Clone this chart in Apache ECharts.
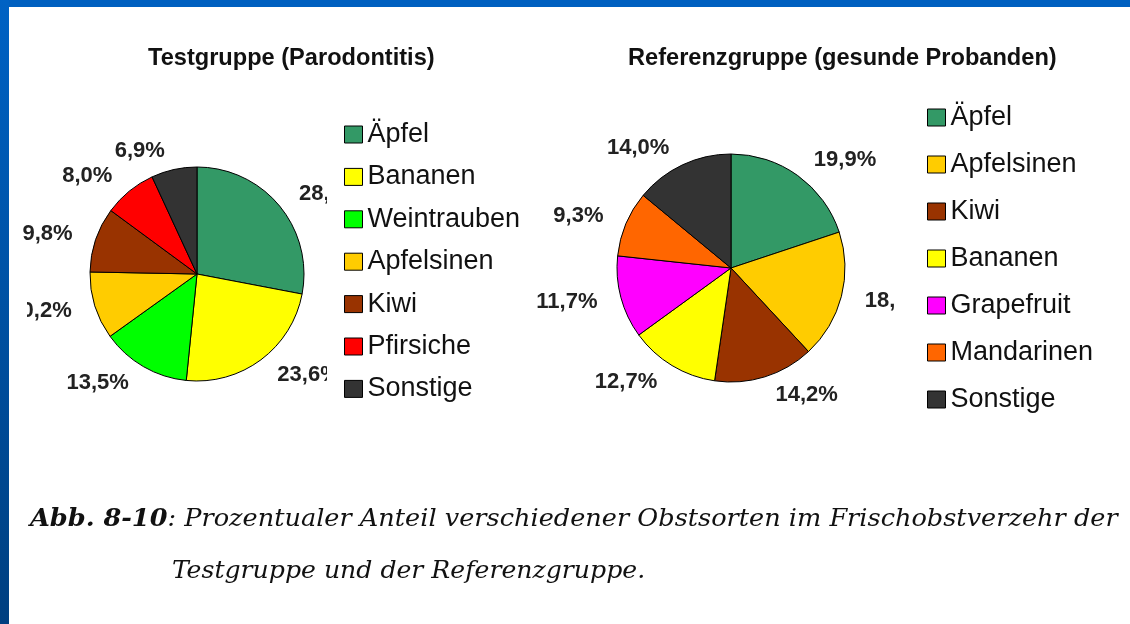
<!DOCTYPE html>
<html>
<head>
<meta charset="utf-8">
<script src="https://cdn.jsdelivr.net/npm/echarts@6/dist/echarts.min.js"></script>
<style>
  html, body { margin: 0; padding: 0; background: #fff; }
  #chart { width: 1130px; height: 624px; }
</style>
</head>
<body>
<div id="chart"></div>
<script>
// Testgruppe (Parodontitis)
var testNames = ['Äpfel', 'Bananen', 'Weintrauben', 'Apfelsinen', 'Kiwi', 'Pfirsiche', 'Sonstige'];
var testValues = [28.0, 23.6, 13.5, 10.2, 9.8, 8.0, 6.9];
// Referenzgruppe (gesunde Probanden)
var refNames = ['Äpfel', 'Apfelsinen', 'Kiwi', 'Bananen', 'Grapefruit', 'Mandarinen', 'Sonstige'];
var refValues = [19.9, 18.2, 14.2, 12.7, 11.7, 9.3, 14.0];

var fruitColors = {
  'Äpfel': '#339966',
  'Bananen': '#ffff00',
  'Weintrauben': '#00ff00',
  'Apfelsinen': '#ffcc00',
  'Kiwi': '#993300',
  'Pfirsiche': '#ff0000',
  'Sonstige': '#333333',
  'Grapefruit': '#ff00ff',
  'Mandarinen': '#ff6600'
};

var sans = 'Liberation Sans, Arial, sans-serif';
var serif = '"DejaVu Serif Condensed", "DejaVu Serif", serif';

function pieData(names, values) {
  return names.map(function (n, i) {
    return { name: n, value: values[i], itemStyle: { color: fruitColors[n] } };
  });
}

function pctLabel(p) {
  return p.value.toFixed(1).replace('.', ',') + '%';
}

function makePie(names, values, center, radius, lineLen) {
  return {
    type: 'pie',
    center: center,
    radius: radius,
    startAngle: 90,
    clockwise: true,
    avoidLabelOverlap: false,
    silent: true,
    itemStyle: { borderColor: '#000', borderWidth: 1 },
    label: {
      show: true,
      position: 'outside',
      formatter: pctLabel,
      fontFamily: sans,
      fontWeight: 'bold',
      fontSize: 22,
      color: '#222'
    },
    labelLine: { show: false, length: lineLen, length2: 0 },
    data: pieData(names, values)
  };
}

// white strips that cut off the outer labels, as the chart area does in the original
// (z 3: above the pie labels, below the legends)
function clipStrip(x, y, w, h) {
  return { type: 'rect', left: x, top: y, z: 3, silent: true,
    shape: { width: w, height: h }, style: { fill: '#fff' } };
}

var chart = echarts.init(document.getElementById('chart'));

chart.setOption({
  animation: false,
  backgroundColor: '#fff',
  title: [
    { text: 'Testgruppe (Parodontitis)', left: 148, top: 46, padding: 0,
      textStyle: { fontFamily: sans, fontSize: 23.6, fontWeight: 'bold', color: '#111' } },
    { text: 'Referenzgruppe (gesunde Probanden)', left: 628, top: 46, padding: 0,
      textStyle: { fontFamily: sans, fontSize: 23.6, fontWeight: 'bold', color: '#111' } }
  ],
  legend: [
    { data: testNames, orient: 'vertical', left: 344, top: 121, padding: 0,
      itemWidth: 18, itemHeight: 17, itemGap: 15.4, icon: 'rect',
      selectedMode: false,
      itemStyle: { borderColor: '#000', borderWidth: 1 },
      textStyle: { fontFamily: sans, fontSize: 27, color: '#111' } },
    { data: refNames, orient: 'vertical', left: 927, top: 104, padding: 0,
      itemWidth: 18, itemHeight: 17, itemGap: 20, icon: 'rect',
      selectedMode: false,
      itemStyle: { borderColor: '#000', borderWidth: 1 },
      textStyle: { fontFamily: sans, fontSize: 27, color: '#111' } }
  ],
  series: [
    makePie(testNames, testValues, [197, 274], 107, 19),
    makePie(refNames, refValues, [731, 268], 114, 19)
  ],
  graphic: [
    // slide frame
    { type: 'rect', left: 0, top: 0, shape: { width: 1130, height: 7 },
      style: { fill: '#0060c0' }, silent: true },
    { type: 'rect', left: 0, top: 0, z: 101, shape: { width: 9, height: 624 },
      style: { fill: new echarts.graphic.LinearGradient(0, 0, 0, 1, [
        { offset: 0, color: '#0062c4' }, { offset: 1, color: '#003f80' }
      ]) }, silent: true },
    clipStrip(9, 290, 18, 40),
    clipStrip(327, 85, 40, 330),
    clipStrip(895, 85, 32, 330),
    // caption
    { type: 'text', x: 30, y: 508, scaleX: 1.185, silent: true,
      style: {
        text: '{b|Abb. 8-10}: Prozentualer Anteil verschiedener Obstsorten im Frischobstverzehr der',
        font: 'italic 24px ' + serif,
        fill: '#111',
        verticalAlign: 'top',
        rich: { b: { fontWeight: 'bold', fontStyle: 'italic', fontSize: 24,
                     fontFamily: serif, color: '#111' } }
      } },
    { type: 'text', x: 172, y: 560, scaleX: 1.165, silent: true,
      style: {
        text: 'Testgruppe und der Referenzgruppe.',
        font: 'italic 24px ' + serif,
        fill: '#111',
        verticalAlign: 'top'
      } }
  ]
});

window.addEventListener('resize', function () {
  chart.resize();
});
</script>
</body>
</html>
